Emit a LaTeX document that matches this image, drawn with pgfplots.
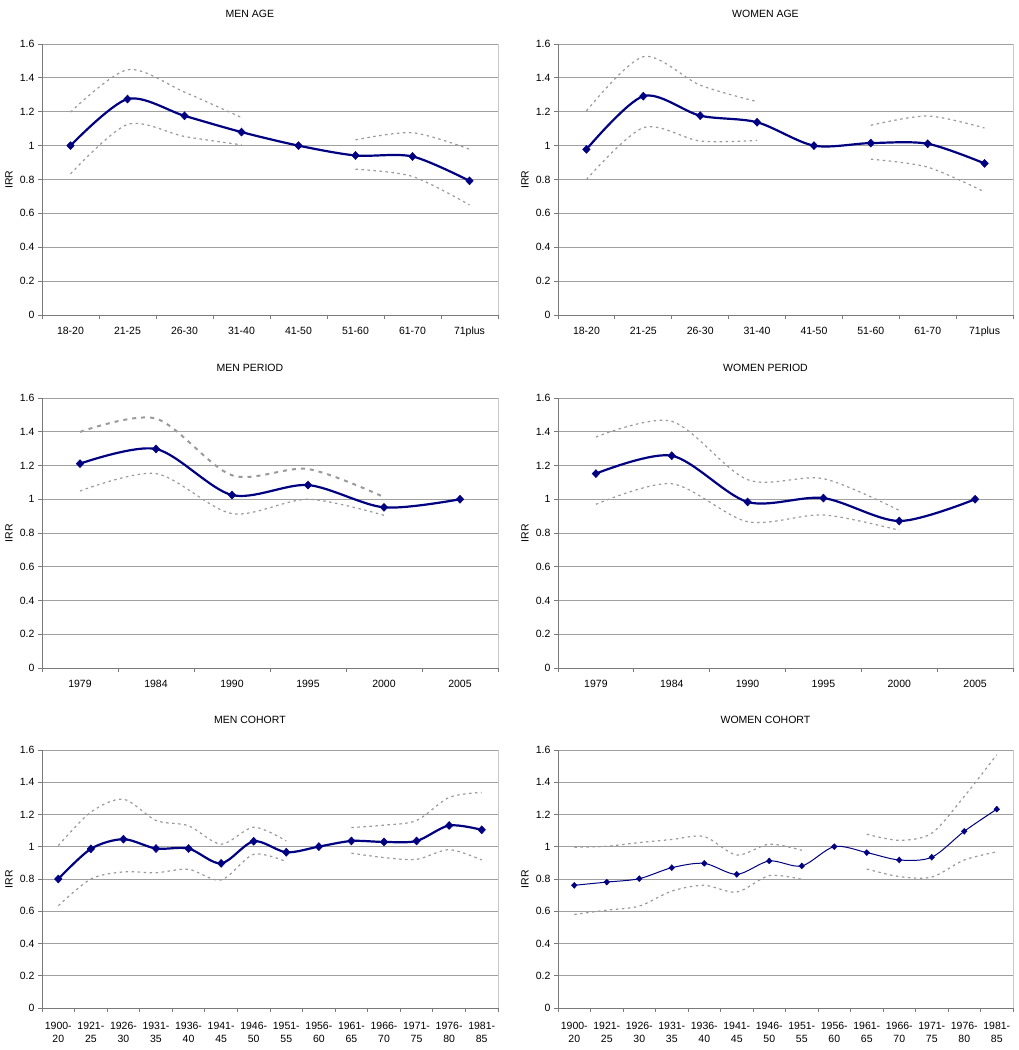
\documentclass[border=0pt]{standalone}
\usepackage{fontspec}
\setmainfont{Liberation Sans}
\usepackage{pgfplots}
\pgfplotsset{compat=1.18}
\definecolor{navy}{HTML}{000080}
\definecolor{cigray}{HTML}{9A9A9A}
\definecolor{axgray}{HTML}{7A7A7A}
\definecolor{gridgray}{HTML}{A0A0A0}
\definecolor{bordergray}{HTML}{C8C8C8}
\pgfplotsset{
  irr/.style={
    scale only axis,
    ymin=0, ymax=1.6,
    ytick={0,0.2,0.4,0.6,0.8,1,1.2,1.4,1.6},
    ymajorgrids,
    grid style={gridgray, line width=0.8pt},
    axis x line*=bottom, axis y line*=left,
    axis line style={axgray, line width=0.8pt},
    tick align=outside, major tick length=4pt, minor tick length=4pt,
    tick style={axgray, line width=0.8pt},
    every major x tick/.append style={draw=none},
    /pgf/number format/assume math mode=true,
    tick label style={font=\fontsize{10.5}{12}\selectfont, black},
    xticklabel style={yshift=-4pt},
    ylabel={IRR},
    every axis y label/.style={at={(rel axis cs:0,0.5)}, xshift=-33pt, rotate=90, anchor=center, font=\fontsize{10.5}{12}\selectfont},
    title style={at={(rel axis cs:0.456,1)}, anchor=center, yshift=24pt, font=\fontsize{10.5}{12}\selectfont},
    after end axis/.code={\draw[bordergray, line width=0.8pt] (rel axis cs:1,0) -- (rel axis cs:1,1);},
    clip=false,
  },
  mainline/.style={navy, line width=2.2pt, smooth, mark=diamond*, mark size=4pt, mark options={solid, xscale=1.25, fill=navy, line width=0.5pt}},
  cil/.style={cigray, line width=1.2pt, dash pattern=on 2.5pt off 3.5pt, smooth},
  agex/.style={xmin=0.5, xmax=8.5, xtick={1,...,8}, minor xtick={0.5,1.5,...,8.5},
    xticklabels={18-20,21-25,26-30,31-40,41-50,51-60,61-70,71plus},
    xticklabel style={text height=1.6ex, text depth=0.4ex}},
  perx/.style={xmin=0.5, xmax=6.5, xtick={1,...,6}, minor xtick={0.5,1.5,...,6.5},
    xticklabels={1979,1984,1990,1995,2000,2005},
    xticklabel style={text height=1.6ex, text depth=0.4ex}},
  cohx/.style={xmin=0.5, xmax=14.5, xtick={1,...,14}, minor xtick={0.5,1.5,...,14.5},
    xticklabels={{1900-\\20},{1921-\\25},{1926-\\30},{1931-\\35},{1936-\\40},{1941-\\45},{1946-\\50},{1951-\\55},{1956-\\60},{1961-\\65},{1966-\\70},{1971-\\75},{1976-\\80},{1981-\\85}},
    xticklabel style={align=center, yshift=-3pt, font=\fontsize{10.5}{12.3}\selectfont}},
}
\begin{document}
\begin{tikzpicture}
\useasboundingbox (0pt,0pt) rectangle (1018pt,-1050pt);

% MEN AGE
\begin{axis}[irr, agex, at={(42pt,-315pt)}, anchor=south west, width=456pt, height=271pt, title={MEN AGE}]
\addplot[cil] coordinates {(1,1.198) (2,1.448) (3,1.316) (4,1.166)};
\addplot[cil] coordinates {(6,1.034) (7,1.076) (8,0.979)};
\addplot[cil] coordinates {(1,0.833) (2,1.125) (3,1.054) (4,1.005)};
\addplot[cil] coordinates {(6,0.861) (7,0.818) (8,0.650)};
\addplot[mainline] coordinates {(1,1.000) (2,1.275) (3,1.176) (4,1.080) (5,1.000) (6,0.942) (7,0.936) (8,0.792)};
\end{axis}

% WOMEN AGE
\begin{axis}[irr, agex, at={(558pt,-315pt)}, anchor=south west, width=455pt, height=271pt, title={WOMEN AGE}]
\addplot[cil] coordinates {(1,1.205) (2,1.525) (3,1.357) (4,1.260)};
\addplot[cil] coordinates {(6,1.120) (7,1.175) (8,1.104)};
\addplot[cil] coordinates {(1,0.800) (2,1.106) (3,1.027) (4,1.031)};
\addplot[cil] coordinates {(6,0.920) (7,0.873) (8,0.727)};
\addplot[mainline] coordinates {(1,0.978) (2,1.292) (3,1.177) (4,1.138) (5,1.000) (6,1.015) (7,1.011) (8,0.895)};
\end{axis}

% MEN PERIOD
\begin{axis}[irr, perx, at={(42pt,-668pt)}, anchor=south west, width=456pt, height=270pt, title={MEN PERIOD}]
\addplot[cigray, line width=2pt, dash pattern=on 4pt off 5pt, smooth] coordinates {(1,1.399) (2,1.478) (3,1.142) (4,1.179) (5,1.013)};
\addplot[cil] coordinates {(1,1.049) (2,1.152) (3,0.915) (4,1.000) (5,0.905)};
\addplot[mainline] coordinates {(1,1.211) (2,1.298) (3,1.025) (4,1.084) (5,0.952) (6,1.000)};
\end{axis}

% WOMEN PERIOD
\begin{axis}[irr, perx, at={(558pt,-668pt)}, anchor=south west, width=455pt, height=270pt, title={WOMEN PERIOD}]
\addplot[cil] coordinates {(1,1.369) (2,1.462) (3,1.116) (4,1.122) (5,0.934)};
\addplot[cil] coordinates {(1,0.970) (2,1.092) (3,0.867) (4,0.907) (5,0.816)};
\addplot[mainline] coordinates {(1,1.152) (2,1.258) (3,0.984) (4,1.007) (5,0.871) (6,1.000)};
\end{axis}

% MEN COHORT
\begin{axis}[irr, cohx, at={(42pt,-1008pt)}, anchor=south west, width=456pt, height=258pt, title={MEN COHORT}]
\addplot[cil] coordinates {(1,1.007) (2,1.215) (3,1.295) (4,1.163) (5,1.130) (6,1.016) (7,1.121) (8,1.036)};
\addplot[cil] coordinates {(10,1.119) (11,1.134) (12,1.163) (13,1.306) (14,1.337)};
\addplot[cil] coordinates {(1,0.634) (2,0.800) (3,0.844) (4,0.839) (5,0.860) (6,0.794) (7,0.953) (8,0.908)};
\addplot[cil] coordinates {(10,0.960) (11,0.933) (12,0.922) (13,0.982) (14,0.918)};
\addplot[mainline] coordinates {(1,0.800) (2,0.987) (3,1.047) (4,0.989) (5,0.989) (6,0.897) (7,1.034) (8,0.966) (9,1.001) (10,1.036) (11,1.030) (12,1.036) (13,1.132) (14,1.105)};
\end{axis}

% WOMEN COHORT
\begin{axis}[irr, cohx, at={(558pt,-1008pt)}, anchor=south west, width=455pt, height=258pt, title={WOMEN COHORT}]
\addplot[cil] coordinates {(1,0.997) (2,1.003) (3,1.026) (4,1.045) (5,1.063) (6,0.949) (7,1.016) (8,0.978)};
\addplot[cil] coordinates {(10,1.078) (11,1.040) (12,1.084) (13,1.312) (14,1.571)};
\addplot[cil] coordinates {(1,0.580) (2,0.607) (3,0.632) (4,0.725) (5,0.761) (6,0.719) (7,0.821) (8,0.798)};
\addplot[cil] coordinates {(10,0.862) (11,0.815) (12,0.812) (13,0.918) (14,0.968)};
\addplot[navy, line width=1pt, smooth, mark=diamond*, mark size=3pt, mark options={solid, xscale=1.25, fill=navy, line width=0.4pt}] coordinates {(1,0.761) (2,0.781) (3,0.802) (4,0.870) (5,0.897) (6,0.829) (7,0.912) (8,0.881) (9,1.001) (10,0.964) (11,0.918) (12,0.935) (13,1.096) (14,1.233)};
\end{axis}
\end{tikzpicture}
\end{document}
